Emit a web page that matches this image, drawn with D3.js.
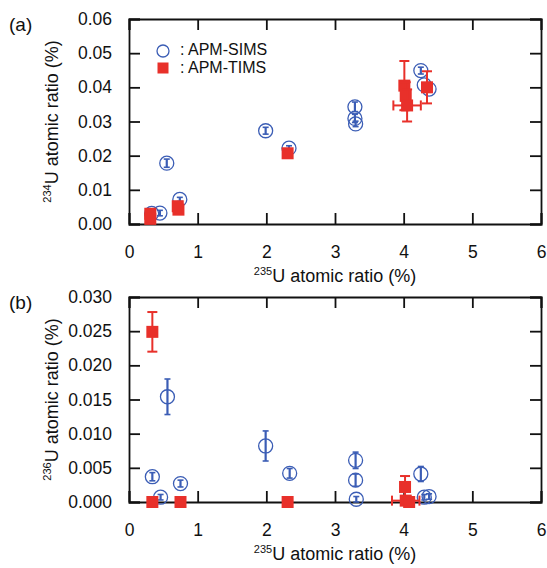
<!DOCTYPE html>
<html>
<head>
<meta charset="utf-8">
<script src="https://cdn.jsdelivr.net/npm/d3@7"></script>
<style>
body { margin:0; background:#fff; }
svg text { font-family:"Liberation Sans", Arial, sans-serif; fill:#111; }
.tick text { font-size:17.5px; }
.axis path, .axis line { stroke:#111; stroke-width:1.8px; }
</style>
</head>
<body>
<svg width="547" height="568"></svg>
<script>
/* ----------------------------------------------------------
data  (x = 235U %, y = 234U / 236U %, ey = error)
---------------------------------------------------------- */
var xTicks = [0,1,2,3,4,5,6];
var yTicksA = [0,0.01,0.02,0.03,0.04,0.05,0.06];
var yTicksB = [0,0.005,0.010,0.015,0.020,0.025,0.030];

// (a) 234U
var simsA_x  = [0.33,0.45,0.55,0.74,1.99,2.33,3.29,3.29,3.30,4.25,4.30,4.37];
var simsA_y  = [0.0031,0.0032,0.0178,0.0072,0.0273,0.0222,0.0343,0.0309,0.0293,0.0449,0.0407,0.0395];
var simsA_ey = [0.0008,0.0008,0.0012,0.0006,0.0010,0.0007,0.0014,0.0012,0.0008,0.0010,0.0006,0.0006];

var timsA_x  = [0.31,0.31,0.71,0.72,2.31,4.01,4.03,4.05,4.34];
var timsA_y  = [0.0030,0.0015,0.0052,0.0042,0.0207,0.0405,0.0375,0.0347,0.0400];
var timsA_ey = [0.0010,0.0008,0.0010,0.0008,0.0008,0.0072,0.0040,0.0047,0.0047];
var timsA_ex = [0,0,0,0,0,0,0,0.20,0];

// (b) 236U
var simsB_x  = [0.34,0.46,0.56,0.75,1.99,2.34,3.30,3.30,3.31,4.25,4.30,4.37];
var simsB_y  = [0.0037,0.0007,0.0154,0.0027,0.0082,0.0042,0.0061,0.0032,0.0004,0.0041,0.0007,0.0008];
var simsB_ey = [0.0006,0.0004,0.0026,0.0005,0.0022,0.0007,0.0012,0.0009,0.0004,0.0011,0.0004,0.0004];

var timsB_x  = [0.34,0.34,0.75,2.31,4.02,4.03,4.08];
var timsB_y  = [0.0249,0.0000,0.0000,0.0000,0.0022,0.0002,0.0000];
var timsB_ey = [0.0029,0,0,0,0.0016,0,0];
var timsB_ex = [0,0,0,0,0,0.20,0];

var blue = "#3b5db5";
var red = "#e8302a";

/* ----------------------------------------------------------
panel
---------------------------------------------------------- */
var svg = d3.select("svg");
var L = 129, R = 541;
var sq = 12;

function panel(top, bottom, yTicks, yFmt, sims, tims, letter, sup){
	var x = d3.scaleLinear().domain([0,6]).range([L,R]);
	var y = d3.scaleLinear().domain([0,yTicks[yTicks.length-1]]).range([bottom,top]);
	var g = svg.append("g");

	// inward ticks on four sides
	g.append("g").attr("class","axis").attr("transform","translate(0,"+bottom+")")
		.call(d3.axisBottom(x).tickValues(xTicks).tickSize(-11).tickPadding(22).tickFormat(d3.format("d")));
	g.append("g").attr("class","axis").attr("transform","translate(0,"+top+")")
		.call(d3.axisTop(x).tickValues(xTicks).tickSize(-11).tickFormat(""));
	g.append("g").attr("class","axis").attr("transform","translate("+L+",0)")
		.call(d3.axisLeft(y).tickValues(yTicks).tickSize(-11).tickPadding(17).tickFormat(yFmt));
	g.append("g").attr("class","axis").attr("transform","translate("+R+",0)")
		.call(d3.axisRight(y).tickValues(yTicks).tickSize(-11).tickFormat(""));
	g.selectAll(".domain").attr("stroke-width",1.8);
	g.selectAll(".tick text").attr("fill","#111");

	// error bars + circles (SIMS)
	sims.x.forEach(function(v,i){
		var cx = x(v), cy = y(sims.y[i]);
		var y1 = y(sims.y[i]+sims.ey[i]), y2 = y(sims.y[i]-sims.ey[i]);
		g.append("line").attr("x1",cx).attr("x2",cx).attr("y1",y1).attr("y2",y2)
			.attr("stroke",blue).attr("stroke-width",2.2);
		[y1,y2].forEach(function(yy){
			g.append("line").attr("x1",cx-3).attr("x2",cx+3).attr("y1",yy).attr("y2",yy)
				.attr("stroke",blue).attr("stroke-width",1.6);
		});
		g.append("circle").attr("cx",cx).attr("cy",cy).attr("r",7)
			.attr("fill","none").attr("stroke",blue).attr("stroke-width",1.3);
	});

	// error bars + squares (TIMS)
	tims.x.forEach(function(v,i){
		var cx = x(v), cy = y(tims.y[i]);
		if(tims.ey[i] > 0){
			var y1 = y(tims.y[i]+tims.ey[i]), y2 = y(tims.y[i]-tims.ey[i]);
			g.append("line").attr("x1",cx).attr("x2",cx).attr("y1",y1).attr("y2",y2)
				.attr("stroke",red).attr("stroke-width",2);
			[y1,y2].forEach(function(yy){
				g.append("line").attr("x1",cx-5).attr("x2",cx+5).attr("y1",yy).attr("y2",yy)
					.attr("stroke",red).attr("stroke-width",2);
			});
		}
		if(tims.ex[i] > 0){
			var x1 = x(v-tims.ex[i]), x2 = x(v+tims.ex[i]);
			g.append("line").attr("x1",x1).attr("x2",x2).attr("y1",cy).attr("y2",cy)
				.attr("stroke",red).attr("stroke-width",2);
			[x1,x2].forEach(function(xx){
				g.append("line").attr("x1",xx).attr("x2",xx).attr("y1",cy-5).attr("y2",cy+5)
					.attr("stroke",red).attr("stroke-width",2);
			});
		}
		g.append("rect").attr("x",cx-sq/2).attr("y",cy-sq/2).attr("width",sq).attr("height",sq)
			.attr("fill",red);
	});

	// panel letter
	svg.append("text").attr("x",9).attr("y",top+12).style("font-size","19px").text(letter);

	// x title
	var xt = svg.append("text").attr("x",(L+R)/2).attr("y",bottom+58)
		.attr("text-anchor","middle").style("font-size","18px");
	xt.append("tspan").attr("dy","-7").style("font-size","11px").text("235");
	xt.append("tspan").attr("dy","7").text("U atomic ratio (%)");

	// y title
	var yt = svg.append("text").attr("transform","translate(58,"+((top+bottom)/2)+") rotate(-90)")
		.attr("text-anchor","middle").style("font-size","18px");
	yt.append("tspan").attr("dy","-7").style("font-size","11px").text(sup);
	yt.append("tspan").attr("dy","7").text("U atomic ratio (%)");
}

panel(19, 224, yTicksA, d3.format(".2f"),
	{x:simsA_x, y:simsA_y, ey:simsA_ey},
	{x:timsA_x, y:timsA_y, ey:timsA_ey, ex:timsA_ex}, "(a)", "234");

panel(297, 502, yTicksB, d3.format(".3f"),
	{x:simsB_x, y:simsB_y, ey:simsB_ey},
	{x:timsB_x, y:timsB_y, ey:timsB_ey, ex:timsB_ex}, "(b)", "236");

/* ----------------------------------------------------------
legend
---------------------------------------------------------- */
var legendVals = [": APM-SIMS", ": APM-TIMS"];
var gLegend = svg.append("g").attr("transform","translate(163,51)");
gLegend.append("circle").attr("cx",0).attr("cy",0).attr("r",6)
	.attr("fill","none").attr("stroke",blue).attr("stroke-width",1.3);
gLegend.append("rect").attr("x",-5.5).attr("y",11.5).attr("width",11).attr("height",11).attr("fill",red);
gLegend.selectAll(".leg").data(legendVals).enter().append("text")
	.attr("x",17).attr("y",function(d,i){ return 4 + i*18; })
	.style("font-size","16px").text(function(d){ return d; });
</script>
</body>
</html>
